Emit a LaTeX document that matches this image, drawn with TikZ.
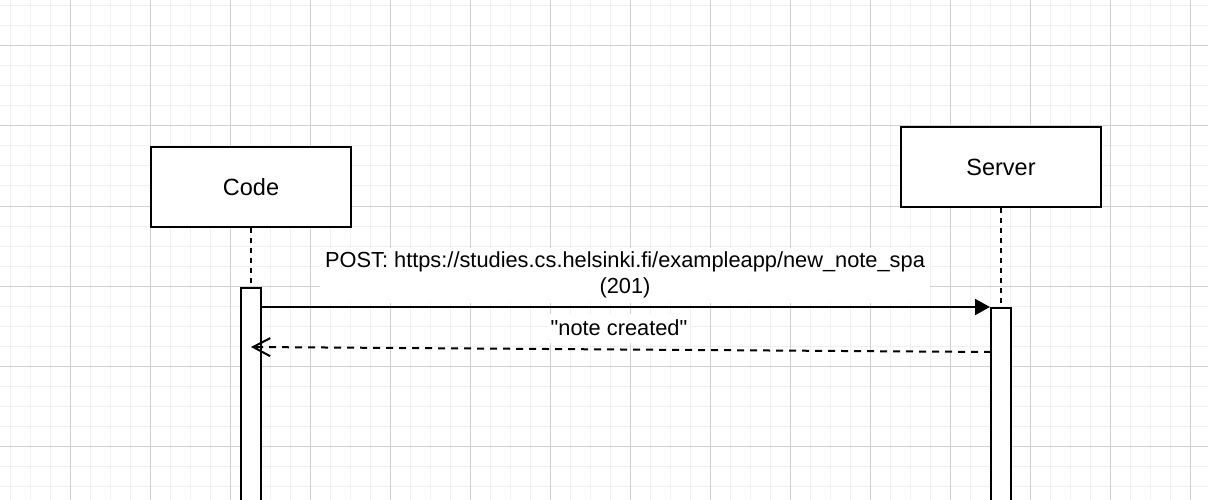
\documentclass[tikz,border=0pt]{standalone}
\usepackage{fontspec}
\setmainfont{Liberation Sans}[Ligatures=TeXOff]
\usetikzlibrary{arrows.meta}
\colorlet{minorc}{black!6}
\colorlet{majorc}{black!18}
\tikzstyle{actor} = [
  draw=black,
  line width=2pt,
  fill=white,
  minimum width=200pt,
  minimum height=80pt,
  font=\fontsize{23.5}{28}\selectfont,
]
\tikzstyle{activation} = [
  draw=black,
  line width=2pt,
  fill=white,
  minimum width=20pt,
  minimum height=260pt,
  anchor=north,
]
\tikzstyle{msglabel} = [
  fill=white,
  inner sep=0pt,
  align=center,
  font=\fontsize{21.8}{26}\selectfont,
]

\begin{document}
\begin{tikzpicture}[x=1pt,y=-1pt]
    \clip (0,0) rectangle (1208,500);
    \fill[white] (0,0) rectangle (1208,500);

    % Grid
    \foreach \x in {10,30,...,1210} \draw[minorc,line width=1pt] (\x,0) -- (\x,500);
    \foreach \y in {6,26,...,506} \draw[minorc,line width=1pt] (0,\y) -- (1208,\y);
    \foreach \x in {70,150,...,1210} \draw[majorc,line width=1pt] (\x,0) -- (\x,500);
    \foreach \y in {46,126,...,506} \draw[majorc,line width=1pt] (0,\y) -- (1208,\y);

    % Participants
    \node[actor] (code) at (251,187) {Code};
    \node[actor] (server) at (1001,167) {Server};

    % Activation bars
    \node[activation] (codebar) at (251,287) {};
    \node[activation] (serverbar) at (1001,307) {};

    % Lifelines
    \draw[line width=2pt,dash pattern=on 5pt off 5pt] (code) -- (codebar);
    \draw[line width=2pt,dash pattern=on 5pt off 5pt] (server) -- (serverbar);

    % Messages
    \draw[line width=2pt,-{Triangle[length=15pt,width=16pt]}]
        (codebar.east |- serverbar.north) -- (serverbar.north west);
    \coordinate (replyfrom) at (991,352);
    \coordinate (replyto) at (251,347);
    \draw[line width=2pt,dash pattern=on 7pt off 6pt,
          -{Straight Barb[length=17pt,width=18pt]}] (replyfrom) -- (replyto);

    % Labels
    \node[msglabel,minimum width=610pt,minimum height=55pt] (post) at (625,275)
        {POST: https://studies.cs.helsinki.fi/exampleapp/new\_note\_spa\\(201)};
    \node[msglabel,minimum width=142pt,minimum height=29pt] (created) at (619,328)
        {"note created"};
\end{tikzpicture}
\end{document}
